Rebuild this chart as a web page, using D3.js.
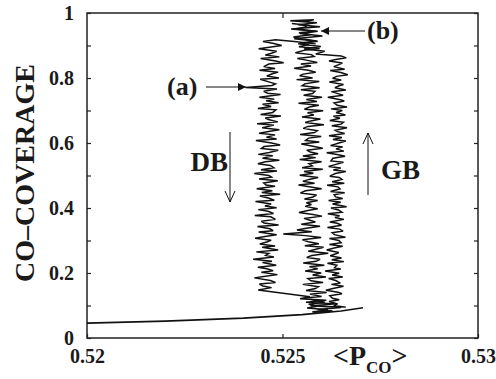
<!DOCTYPE html>
<html>
<head>
<meta charset="utf-8">
<script src="https://cdn.jsdelivr.net/npm/d3@7"></script>
<style>
  body { margin: 0; background: #fff; }
  svg text { font-family: "Liberation Serif", "Times New Roman", serif; font-weight: bold; fill: #1a1a1a; }
</style>
</head>
<body>
<svg id="chart" width="496" height="379"></svg>
<script>
// tick values / labels
var xTicks = [0.52, 0.525, 0.53];
var xTickLabels = ["0.52", "0.525", "0.53"];
var yTicks = [0, 0.1, 0.2, 0.3, 0.4, 0.5, 0.6, 0.7, 0.8, 0.9, 1];
var yTickLabels = ["0", "", "0.2", "", "0.4", "", "0.6", "", "0.8", "", "1"];

// low branch
var lowP = [0.52000, 0.52200, 0.52400, 0.52550, 0.52650, 0.52706];
var lowCov = [0.046, 0.052, 0.061, 0.072, 0.083, 0.093];

// GB run: up the right column, then across and up the middle to the top
var gbP = [0.52600, 0.52662,
  0.52631, 0.52641, 0.52619, 0.52645, 0.52628, 0.52621, 0.52652, 0.52642, 0.52611, 0.52629,
  0.52656, 0.52625, 0.52648, 0.52636, 0.52618, 0.52654, 0.52627, 0.52645, 0.52609, 0.52649,
  0.52633, 0.52639, 0.52615, 0.52657, 0.52626, 0.52651, 0.52622, 0.52637, 0.52644, 0.52613,
  0.52632, 0.52654, 0.52620, 0.52650, 0.52644, 0.52620, 0.52661, 0.52633, 0.52627, 0.52655,
  0.52646, 0.52615, 0.52651, 0.52640, 0.52621, 0.52657, 0.52634, 0.52646, 0.52616, 0.52652,
  0.52643, 0.52624, 0.52664, 0.52628, 0.52649, 0.52618, 0.52654, 0.52636, 0.52632, 0.52659,
  0.52623, 0.52647, 0.52642, 0.52614, 0.52658, 0.52627, 0.52652, 0.52645, 0.52621, 0.52635,
  0.52662, 0.52630, 0.52649, 0.52618, 0.52639, 0.52656, 0.52624, 0.52629, 0.52660, 0.52643,
  0.52613, 0.52657, 0.52637, 0.52654, 0.52623, 0.52644, 0.52662, 0.52629, 0.52652, 0.52619,
  0.52659, 0.52641, 0.52635, 0.52665, 0.52626, 0.52650, 0.52656, 0.52621, 0.52647, 0.52630,
  0.52661, 0.52637, 0.52653, 0.52624, 0.52665, 0.52640, 0.52632, 0.52658, 0.52648, 0.52616,
  0.52655, 0.52642, 0.52625, 0.52662, 0.52634, 0.52645, 0.52656, 0.52620, 0.52650, 0.52628,
  0.52638, 0.52667, 0.52649, 0.52622, 0.52659, 0.52631, 0.52644, 0.52653, 0.52619, 0.52636,
  0.52663,
  0.52650, 0.52585, 0.52608, 0.52555, 0.52598, 0.52540, 0.52590, 0.52530, 0.52602, 0.52545,
  0.52590, 0.52522, 0.52596, 0.52540, 0.52588, 0.52520, 0.52580, 0.52548];
var gbCov = [0.098, 0.095,
  0.100, 0.105, 0.112, 0.118, 0.122, 0.130, 0.136, 0.141, 0.147,
  0.152, 0.159, 0.165, 0.169, 0.177, 0.183, 0.188, 0.194,
  0.199, 0.206, 0.212, 0.216, 0.224, 0.230, 0.235, 0.241,
  0.246, 0.253, 0.259, 0.263, 0.271, 0.277, 0.282, 0.288,
  0.293, 0.300, 0.306, 0.310, 0.318, 0.324, 0.329, 0.335,
  0.340, 0.347, 0.353, 0.357, 0.365, 0.371, 0.376, 0.382,
  0.387, 0.394, 0.400, 0.404, 0.412, 0.418, 0.423, 0.429,
  0.434, 0.441, 0.447, 0.451, 0.459, 0.465, 0.470, 0.476,
  0.481, 0.488, 0.494, 0.498, 0.506, 0.512, 0.517, 0.523,
  0.528, 0.535, 0.541, 0.545, 0.553, 0.559, 0.564, 0.570,
  0.575, 0.582, 0.588, 0.592, 0.600, 0.606, 0.611, 0.617,
  0.622, 0.629, 0.635, 0.639, 0.647, 0.653, 0.658, 0.664,
  0.669, 0.676, 0.682, 0.686, 0.694, 0.700, 0.705, 0.711,
  0.716, 0.723, 0.729, 0.733, 0.741, 0.747, 0.752, 0.758,
  0.763, 0.770, 0.776, 0.780, 0.788, 0.794, 0.799, 0.805,
  0.810, 0.817, 0.823, 0.827, 0.835, 0.841, 0.846, 0.852,
  0.857, 0.862,
  0.868, 0.874, 0.882, 0.889, 0.897, 0.905, 0.913, 0.921, 0.929, 0.937,
  0.944, 0.951, 0.958, 0.964, 0.970, 0.976, 0.979, 0.972];

// DB run (b): middle column, top to bottom
var dbbP = [0.52524,
  0.52564, 0.52556, 0.52532, 0.52585, 0.52542, 0.52572, 0.52528, 0.52552,
  0.52587, 0.52546, 0.52568, 0.52542, 0.52595, 0.52555, 0.52533, 0.52574,
  0.52581, 0.52538, 0.52561, 0.52589, 0.52547, 0.52573, 0.52530, 0.52566,
  0.52585, 0.52553, 0.52544, 0.52577, 0.52536, 0.52594, 0.52557, 0.52550,
  0.52595, 0.52547, 0.52583, 0.52577, 0.52554, 0.52601, 0.52561, 0.52588,
  0.52541, 0.52593, 0.52569, 0.52556, 0.52604, 0.52564, 0.52580, 0.52550,
  0.52597, 0.52572, 0.52558, 0.52606, 0.52565, 0.52553, 0.52589, 0.52582,
  0.52545, 0.52599, 0.52567, 0.52559, 0.52594, 0.52548, 0.52578, 0.52603,
  0.52562, 0.52571, 0.52591, 0.52552, 0.52585, 0.52544, 0.52600, 0.52568,
  0.52576, 0.52550, 0.52603, 0.52555, 0.52579, 0.52544, 0.52591, 0.52568,
  0.52552, 0.52582, 0.52541, 0.52576, 0.52600, 0.52559, 0.52546, 0.52587,
  0.52578, 0.52556, 0.52590, 0.52561, 0.52574, 0.52558, 0.52590, 0.52565,
  0.52542, 0.52578, 0.52601, 0.52555, 0.52568, 0.52584, 0.52548, 0.52596,
  0.52561, 0.52537, 0.52575, 0.52502, 0.52559, 0.52599, 0.52551, 0.52566,
  0.52593, 0.52557, 0.52605, 0.52583, 0.52566, 0.52617, 0.52575, 0.52562,
  0.52596, 0.52586, 0.52553, 0.52607, 0.52569, 0.52590, 0.52558, 0.52599,
  0.52577, 0.52611, 0.52565, 0.52573, 0.52604, 0.52552, 0.52592, 0.52584,
  0.52560, 0.52613, 0.52570, 0.52600, 0.52556, 0.52580, 0.52608, 0.52567,
  0.52589, 0.52563, 0.52616, 0.52576];
var dbbCov = [0.968,
  0.962, 0.956, 0.951, 0.944, 0.939, 0.933, 0.926, 0.920,
  0.914, 0.908, 0.903, 0.896, 0.891, 0.885, 0.878, 0.872,
  0.866, 0.860, 0.855, 0.848, 0.843, 0.837, 0.830, 0.824,
  0.818, 0.812, 0.807, 0.800, 0.795, 0.789, 0.782, 0.776,
  0.770, 0.764, 0.759, 0.752, 0.747, 0.741, 0.734, 0.728,
  0.722, 0.716, 0.711, 0.704, 0.699, 0.693, 0.686, 0.680,
  0.674, 0.668, 0.663, 0.656, 0.651, 0.645, 0.638, 0.632,
  0.626, 0.620, 0.615, 0.608, 0.603, 0.597, 0.590, 0.584,
  0.578, 0.572, 0.567, 0.560, 0.555, 0.549, 0.542, 0.536,
  0.530, 0.524, 0.519, 0.512, 0.507, 0.501, 0.494, 0.488,
  0.482, 0.476, 0.471, 0.464, 0.459, 0.453, 0.446, 0.440,
  0.434, 0.428, 0.423, 0.416, 0.411, 0.405, 0.398, 0.392,
  0.386, 0.380, 0.375, 0.368, 0.363, 0.357, 0.350, 0.344,
  0.338, 0.332, 0.327, 0.320, 0.315, 0.309, 0.302, 0.296,
  0.290, 0.284, 0.279, 0.272, 0.267, 0.261, 0.254, 0.248,
  0.242, 0.236, 0.231, 0.224, 0.219, 0.213, 0.206, 0.200,
  0.194, 0.188, 0.183, 0.176, 0.171, 0.165, 0.158, 0.152,
  0.146, 0.140, 0.135, 0.128, 0.123, 0.117, 0.110, 0.104,
  0.098, 0.092, 0.087, 0.080];

// DB run (a): left column, top to bottom, then back into the bottom cluster
var dbaP = [0.52585, 0.52530,
  0.52482, 0.52450, 0.52475, 0.52498, 0.52462, 0.52439, 0.52485, 0.52472, 0.52456, 0.52492,
  0.52444, 0.52479, 0.52503, 0.52465, 0.52452, 0.52481, 0.52441, 0.52489, 0.52474, 0.52460,
  0.52491, 0.52443, 0.52465, 0.52482, 0.52473, 0.52405, 0.52486, 0.52452, 0.52462, 0.52495,
  0.52441, 0.52479, 0.52458, 0.52490, 0.52449, 0.52471, 0.52437, 0.52483, 0.52475, 0.52444,
  0.52496, 0.52456, 0.52464, 0.52488, 0.52435, 0.52478, 0.52448, 0.52492, 0.52468, 0.52440,
  0.52481, 0.52459, 0.52485, 0.52432, 0.52472, 0.52494, 0.52453, 0.52446, 0.52489, 0.52466,
  0.52438, 0.52475, 0.52449, 0.52492, 0.52456, 0.52437, 0.52469, 0.52478, 0.52445, 0.52486,
  0.52428, 0.52465, 0.52472, 0.52440, 0.52488, 0.52452, 0.52458, 0.52481, 0.52434, 0.52474,
  0.52447, 0.52494, 0.52442, 0.52466, 0.52479, 0.52431, 0.52471, 0.52455, 0.52485, 0.52438,
  0.52463, 0.52477, 0.52429, 0.52470, 0.52482, 0.52446, 0.52453, 0.52490, 0.52436, 0.52468,
  0.52476, 0.52439, 0.52485, 0.52455, 0.52430, 0.52471, 0.52462, 0.52442, 0.52481, 0.52448,
  0.52489, 0.52433, 0.52465, 0.52457, 0.52478, 0.52425, 0.52473, 0.52449, 0.52484, 0.52437,
  0.52460, 0.52476, 0.52446, 0.52487, 0.52452, 0.52428, 0.52469, 0.52482, 0.52441, 0.52450,
  0.52472, 0.52438, 0.52467,
  0.52570, 0.52545, 0.52612, 0.52560, 0.52638, 0.52572, 0.52650, 0.52590, 0.52628, 0.52580];
var dbaCov = [0.905, 0.912,
  0.918,
  0.912, 0.907, 0.900, 0.894, 0.890, 0.882, 0.876, 0.871,
  0.865, 0.860, 0.853, 0.847, 0.843, 0.835, 0.829, 0.824,
  0.818, 0.813, 0.806, 0.800, 0.796, 0.788, 0.782, 0.777,
  0.771, 0.766, 0.759, 0.753, 0.749, 0.741, 0.735, 0.730,
  0.724, 0.719, 0.712, 0.706, 0.702, 0.694, 0.688, 0.683,
  0.677, 0.672, 0.665, 0.659, 0.655, 0.647, 0.641, 0.636,
  0.630, 0.625, 0.618, 0.612, 0.608, 0.600, 0.594, 0.589,
  0.583, 0.578, 0.571, 0.565, 0.561, 0.553, 0.547, 0.542,
  0.536, 0.531, 0.524, 0.518, 0.514, 0.506, 0.500, 0.495,
  0.489, 0.484, 0.477, 0.471, 0.467, 0.459, 0.453, 0.448,
  0.442, 0.437, 0.430, 0.424, 0.420, 0.412, 0.406, 0.401,
  0.395, 0.390, 0.383, 0.377, 0.373, 0.365, 0.359, 0.354,
  0.348, 0.343, 0.336, 0.330, 0.326, 0.318, 0.312, 0.307,
  0.301, 0.296, 0.289, 0.283, 0.279, 0.271, 0.265, 0.260,
  0.254, 0.249, 0.242, 0.236, 0.232, 0.224, 0.218, 0.213,
  0.207, 0.202, 0.195, 0.189, 0.185, 0.177, 0.171, 0.166,
  0.160, 0.155, 0.148, 0.143,
  0.127, 0.121, 0.116, 0.110, 0.105, 0.099, 0.094, 0.088, 0.083, 0.079];

var svg = d3.select("#chart"),
  margin = {top: 13, right: 18, bottom: 41, left: 87},
  width = +svg.attr("width") - margin.left - margin.right,
  height = +svg.attr("height") - margin.top - margin.bottom,
  g = svg.append("g").attr("transform", "translate(" + margin.left + "," + margin.top + ")");

var x = d3.scaleLinear().domain([0.52, 0.53]).range([0, width]);
var y = d3.scaleLinear().domain([0, 1]).range([height, 0]);

// axes, ticks pointing inward
g.append("g")
  .call(d3.axisLeft(y).tickValues(yTicks).tickSize(-4).tickPadding(13)
    .tickFormat(function(d, i) { return yTickLabels[i]; }))
  .style("font-size", "20px");

g.append("g")
  .attr("transform", "translate(" + width + ",0)")
  .call(d3.axisRight(y).tickValues(yTicks).tickSize(-4).tickFormat(""));

g.append("g")
  .attr("transform", "translate(0," + height + ")")
  .call(d3.axisBottom(x).tickValues(xTicks).tickSize(-4).tickPadding(11)
    .tickFormat(function(d, i) { return xTickLabels[i]; }))
  .style("font-size", "20px");

g.append("g")
  .call(d3.axisTop(x).tickValues([0.525]).tickSize(-5).tickFormat(""));

g.selectAll(".domain").remove();
g.selectAll(".tick line").attr("stroke", "#222").attr("stroke-width", 1.2);

g.append("rect")
  .attr("width", width)
  .attr("height", height)
  .attr("fill", "none")
  .attr("stroke", "#222")
  .attr("stroke-width", 1.5);

// curves
function drawRun(px, py, w) {
  var pts = d3.range(Math.min(px.length, py.length)).map(function(i) { return [px[i], py[i]]; });
  var line = d3.line()
    .x(function(d) { return x(d[0]); })
    .y(function(d) { return y(d[1]); });
  g.append("path")
    .datum(pts)
    .attr("d", line)
    .attr("fill", "none")
    .attr("stroke", "#111")
    .attr("stroke-width", w)
    .attr("stroke-linejoin", "miter")
    .attr("stroke-miterlimit", 3);
}

drawRun(lowP, lowCov, 1.7);
drawRun(gbP, gbCov, 1.5);
drawRun(dbbP, dbbCov, 1.5);
drawRun(dbaP, dbaCov, 1.5);

// axis titles
svg.append("text")
  .attr("transform", "translate(34,173) rotate(-90)")
  .attr("text-anchor", "middle")
  .style("font-size", "28px")
  .text("CO\u2013COVERAGE");

var xl = svg.append("text")
  .attr("x", 333)
  .attr("y", 365)
  .style("font-size", "28px");
xl.append("tspan").text("<P");
xl.append("tspan").attr("dy", 8).style("font-size", "17px").text("CO");
xl.append("tspan").attr("dy", -8).text(">");

// annotations
var ann = svg.append("g");
ann.append("defs").append("marker")
  .attr("id", "head")
  .attr("viewBox", "0 0 10 10")
  .attr("refX", 10).attr("refY", 5)
  .attr("markerWidth", 12).attr("markerHeight", 8)
  .attr("markerUnits", "userSpaceOnUse")
  .attr("orient", "auto")
  .append("path")
  .attr("d", "M0,0L10,5L0,10Z")
  .attr("fill", "#111");

ann.append("text").attr("x", 167).attr("y", 95).style("font-size", "26px").text("(a)");
ann.append("line")
  .attr("x1", 206).attr("y1", 87).attr("x2", 246).attr("y2", 87)
  .attr("stroke", "#111").attr("stroke-width", 1.2)
  .attr("marker-end", "url(#head)");

ann.append("text").attr("x", 367).attr("y", 39).style("font-size", "26px").text("(b)");
ann.append("line")
  .attr("x1", 365).attr("y1", 31).attr("x2", 321).attr("y2", 31)
  .attr("stroke", "#111").attr("stroke-width", 1.2)
  .attr("marker-end", "url(#head)");

ann.append("text").attr("x", 228).attr("y", 171).attr("text-anchor", "end")
  .style("font-size", "27px").text("DB");
ann.append("path")
  .attr("d", "M230,132V202M225,191L230,202L235,191")
  .attr("fill", "none").attr("stroke", "#111").attr("stroke-width", 1);

ann.append("text").attr("x", 381).attr("y", 179)
  .style("font-size", "27px").text("GB");
ann.append("path")
  .attr("d", "M368,195V133M363,144L368,133L373,144")
  .attr("fill", "none").attr("stroke", "#111").attr("stroke-width", 1);
</script>
</body>
</html>
